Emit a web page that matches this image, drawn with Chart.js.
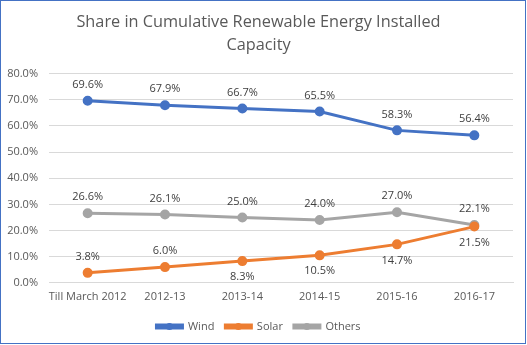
<!DOCTYPE html>
<html>
<head>
<meta charset="utf-8">
<script src="https://cdn.jsdelivr.net/npm/chart.js@4"></script>
<style>
  html, body { margin: 0; padding: 0; background: #fff; }
  #wrap { position: relative; width: 527px; height: 345px; }
</style>
</head>
<body>
<div id="wrap"><canvas id="chart" width="527" height="345"></canvas></div>
<script>
// Datos
const categories = ['Till March 2012', '2012-13', '2013-14', '2014-15', '2015-16', '2016-17'];
const wind = [69.6, 67.9, 66.7, 65.5, 58.3, 56.4];
const solar = [3.8, 6.0, 8.3, 10.5, 14.7, 21.5];
const others = [26.6, 26.1, 25.0, 24.0, 27.0, 22.1];
// posicion de etiqueta: -1 arriba, 1 abajo
const windLabelPos = [-1, -1, -1, -1, -1, -1];
const solarLabelPos = [-1, -1, 1, 1, 1, 1];
const othersLabelPos = [-1, -1, -1, -1, -1, -1];

const FONT = '"Open Sans", "Liberation Sans", sans-serif';
const TEXT = '#595959';

// Etiquetas de datos (sin plugin externo)
const dataLabels = {
    id: 'dataLabels',
    afterDatasetsDraw(chart) {
        const ctx = chart.ctx;
        ctx.save();
        ctx.font = '11px ' + FONT;
        ctx.fillStyle = '#404040';
        ctx.textAlign = 'center';
        ctx.textBaseline = 'middle';
        chart.data.datasets.forEach((ds, i) => {
            const meta = chart.getDatasetMeta(i);
            meta.data.forEach((pt, j) => {
                const dir = ds.labelPos[j];
                ctx.fillText(ds.data[j].toFixed(1) + '%', pt.x, pt.y + dir * 16);
            });
        });
        ctx.restore();
    }
};

// Fondo, borde y marcador circular en la leyenda
const frame = {
    id: 'frame',
    beforeDraw(chart) {
        const ctx = chart.ctx;
        ctx.save();
        ctx.fillStyle = '#fff';
        ctx.fillRect(0, 0, chart.width, chart.height);
        ctx.restore();
    },
    afterDraw(chart) {
        const ctx = chart.ctx;
        ctx.save();
        ctx.strokeStyle = '#4472C4';
        ctx.lineWidth = 1;
        ctx.strokeRect(0.5, 0.5, chart.width - 2, chart.height - 2);
        const legend = chart.legend;
        legend.legendHitBoxes.forEach((box, i) => {
            const ds = chart.data.datasets[i];
            ctx.fillStyle = ds.borderColor;
            ctx.beginPath();
            ctx.arc(box.left + 13, box.top + box.height / 2, 3.5, 0, Math.PI * 2);
            ctx.fill();
        });
        ctx.restore();
    }
};

function makeSet(label, data, color, labelPos) {
    return {
        label: label,
        data: data,
        labelPos: labelPos,
        borderColor: color,
        backgroundColor: color,
        borderWidth: 3,
        pointRadius: 3.5,
        pointBackgroundColor: color,
        pointBorderColor: color,
        tension: 0,
        fill: false
    };
}

new Chart(document.getElementById('chart'), {
    type: 'line',
    data: {
        labels: categories,
        datasets: [
            makeSet('Wind', wind, '#4472C4', windLabelPos),
            makeSet('Solar', solar, '#ED7D31', solarLabelPos),
            makeSet('Others', others, '#A5A5A5', othersLabelPos)
        ]
    },
    options: {
        responsive: false,
        animation: false,
        devicePixelRatio: 1,
        layout: { padding: { left: 4, right: 14, top: 6, bottom: 3 } },
        plugins: {
            title: {
                display: true,
                text: ['Share in Cumulative Renewable Energy Installed', 'Capacity'],
                color: TEXT,
                font: { family: FONT, size: 16.3, weight: 'normal', lineHeight: 1.4 },
                padding: { top: 5, bottom: 17 }
            },
            legend: {
                position: 'bottom',
                labels: {
                    color: TEXT,
                    font: { family: FONT, size: 11 },
                    boxWidth: 26,
                    boxHeight: 3,
                    padding: 11
                }
            },
            tooltip: { enabled: false }
        },
        scales: {
            x: {
                offset: true,
                grid: { display: false, drawTicks: false },
                border: { color: '#D9D9D9' },
                ticks: { color: TEXT, font: { family: FONT, size: 11 }, maxRotation: 0, autoSkip: false, padding: 7 }
            },
            y: {
                min: 0,
                max: 80,
                afterFit: s => { s.width = 45; },
                ticks: {
                    stepSize: 10,
                    color: TEXT,
                    font: { family: FONT, size: 11 },
                    padding: 11,
                    callback: v => v.toFixed(1) + '%'
                },
                grid: { color: '#D9D9D9', drawTicks: false },
                border: { display: false }
            }
        }
    },
    plugins: [dataLabels, frame]
});
</script>
</body>
</html>
